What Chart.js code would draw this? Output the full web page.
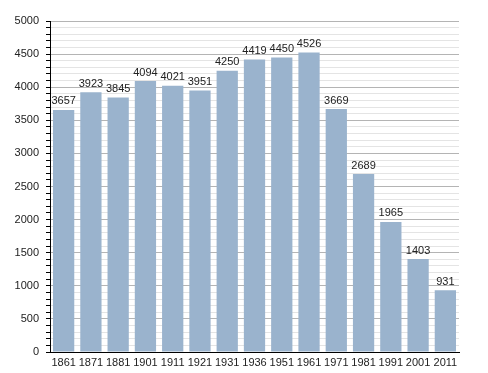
<!DOCTYPE html>
<html>
<head>
<meta charset="utf-8">
<script src="https://cdn.jsdelivr.net/npm/chart.js@4.4.0/dist/chart.umd.min.js"></script>
<style>
  html, body { margin: 0; padding: 0; background: #fff; }
  #wrap { width: 488px; height: 373px; }
</style>
</head>
<body>
<div id="wrap"><canvas id="graf"></canvas></div>
<script>
const anos = ['1861','1871','1881','1901','1911','1921','1931','1936','1951','1961','1971','1981','1991','2001','2011']
const populacao = [3657,3923,3845,4094,4021,3951,4250,4419,4450,4526,3669,2689,1965,1403,931]
const yMax = 5000

// numeros em cima das barras
const rotulos = {
  id: 'rotulos',
  afterDatasetsDraw(chart) {
    const ctx = chart.ctx
    const meta = chart.getDatasetMeta(0)
    ctx.save()
    ctx.font = '11px "Liberation Sans", Arial, sans-serif'
    ctx.fillStyle = '#222'
    ctx.textAlign = 'center'
    ctx.textBaseline = 'bottom'
    meta.data.forEach((bar, i) => {
      ctx.fillText(populacao[i], bar.x, bar.y - 3)
    })
    ctx.restore()
  }
}

new Chart(document.getElementById('graf'), {
  type: 'bar',
  data: {
    labels: anos,
    datasets: [{
      data: populacao,
      backgroundColor: '#9ab3cd',
      borderWidth: 0,
      barPercentage: 0.78,
      categoryPercentage: 1
    }]
  },
  options: {
    responsive: true,
    maintainAspectRatio: false,
    animation: false,
    layout: { padding: { top: 21, right: 29, left: 0, bottom: 0 } },
    plugins: { legend: { display: false }, tooltip: { enabled: false } },
    scales: {
      x: {
        grid: { display: false, tickLength: 0 },
        border: { color: '#000', width: 1 },
        ticks: { color: '#222', font: { family: '"Liberation Sans", Arial', size: 11 }, padding: 4, maxRotation: 0, autoSkip: false },
        afterFit(s) { s.height = 21 }
      },
      y: {
        min: 0,
        max: yMax,
        grid: {
          color: c => (c.tick && c.tick.value % 500 === 0) ? '#b4b4b4' : '#e4e4e4',
          tickColor: '#000',
          tickLength: 4
        },
        border: { color: '#000', width: 1 },
        ticks: {
          stepSize: 100,
          autoSkip: false,
          color: '#222',
          font: { family: '"Liberation Sans", Arial', size: 11 },
          padding: 7,
          callback: v => v % 500 === 0 ? v : ''
        },
        afterFit(s) { s.width = 50 }
      }
    }
  },
  plugins: [rotulos]
})
</script>
</body>
</html>
